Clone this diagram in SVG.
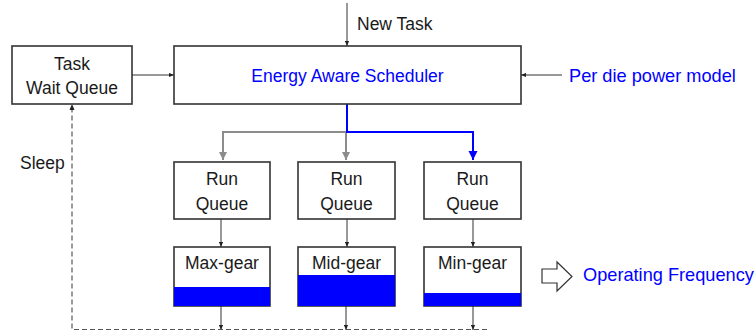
<svg xmlns="http://www.w3.org/2000/svg" width="755" height="331" viewBox="0 0 755 331">
<style>
.box{fill:#fff;stroke:#333;stroke-width:1.6}
.t{font-family:"Liberation Sans",Arial,sans-serif;font-size:17.5px;fill:#1a1a1a;text-anchor:middle}
.tl{text-anchor:start}
.big{font-size:18.2px}
.blue{fill:#0000ff}
.c{fill:none;stroke:#333;stroke-width:1}
.g{fill:none;stroke:#8c8c8c;stroke-width:2}
.b{fill:none;stroke:#0000ff;stroke-width:2}
.d{fill:none;stroke:#555;stroke-width:1.2;stroke-dasharray:5,3}
.bar{fill:#0000ff}
</style>
<defs>
<marker id="ak" viewBox="0 0 6 6" refX="6" refY="3" markerWidth="5" markerHeight="5" orient="auto" markerUnits="userSpaceOnUse"><path d="M0,0.5L6,3L0,5.5z" fill="#222"/></marker>
<marker id="ag" viewBox="0 0 10 10" refX="10" refY="5" markerWidth="8" markerHeight="9" orient="auto" markerUnits="userSpaceOnUse"><path d="M0,0L10,5L0,10z" fill="#8c8c8c"/></marker>
<marker id="ab" viewBox="0 0 10 10" refX="10" refY="5" markerWidth="9" markerHeight="10" orient="auto" markerUnits="userSpaceOnUse"><path d="M0,0L10,5L0,10z" fill="#0000ff"/></marker>
</defs>
<g id="connectors">
<path class="c" d="M347,3V46" marker-end="url(#ak)"/>
<path class="c" d="M132,75H174" marker-end="url(#ak)"/>
<path class="c" d="M562,75H521" marker-end="url(#ak)"/>
<path class="g" d="M346,132H223V160"/>
<path class="g" d="M223,132V160" marker-end="url(#ag)"/>
<path class="g" d="M346,132V160" marker-end="url(#ag)"/>
<path class="b" d="M347,104V132H473V160" marker-end="url(#ab)"/>
<path class="c" d="M221,219V247" marker-end="url(#ak)"/>
<path class="c" d="M347,219V247" marker-end="url(#ak)"/>
<path class="c" d="M473,219V247" marker-end="url(#ak)"/>
<path class="c" d="M221,306V330" marker-end="url(#ak)"/>
<path class="c" d="M346,306V330" marker-end="url(#ak)"/>
<path class="c" d="M473,306V330" marker-end="url(#ak)"/>
<path class="d" d="M487,329.5H72V106"/>
<path d="M72,104L69.5,110H74.5z" fill="#222"/>
<path d="M542,269H557V262L572,276.5L557,291V283H542z" fill="#fff" stroke="#333" stroke-width="1.2"/>
</g>
<g id="task-wait-queue">
<rect class="box" x="12" y="46" width="120" height="58"/>
<text class="t" x="72" y="70">Task</text>
<text class="t" x="72" y="94">Wait Queue</text>
</g>
<g id="scheduler">
<rect class="box" x="174" y="46" width="347" height="58"/>
<text class="t blue" x="347.5" y="82">Energy Aware Scheduler</text>
</g>
<g id="new-task"><text class="t tl" x="357" y="30">New Task</text></g>
<g id="power-model"><text class="t tl blue big" x="569" y="82">Per die power model</text></g>
<g id="sleep"><text class="t tl" x="20" y="169">Sleep</text></g>
<g id="rq1"><rect class="box" x="174" y="162" width="96" height="57"/><text class="t" x="222" y="185">Run</text><text class="t" x="222" y="210">Queue</text></g>
<g id="rq2"><rect class="box" x="298" y="162" width="97" height="57"/><text class="t" x="346.5" y="185">Run</text><text class="t" x="346.5" y="210">Queue</text></g>
<g id="rq3"><rect class="box" x="424" y="162" width="97" height="57"/><text class="t" x="472.5" y="185">Run</text><text class="t" x="472.5" y="210">Queue</text></g>
<g id="max-gear"><rect class="box" x="174" y="247" width="96" height="59"/><rect class="bar" x="174" y="287" width="96" height="19"/><text class="t" x="222" y="269">Max-gear</text></g>
<g id="mid-gear"><rect class="box" x="298" y="247" width="97" height="59"/><rect class="bar" x="298" y="275" width="97" height="31"/><text class="t" x="346.5" y="269">Mid-gear</text></g>
<g id="min-gear"><rect class="box" x="424" y="247" width="97" height="59"/><rect class="bar" x="424" y="293" width="97" height="13"/><text class="t" x="472.5" y="269">Min-gear</text></g>
<g id="operating-frequency"><text class="t tl blue big" x="583" y="281">Operating Frequency</text></g>
</svg>
